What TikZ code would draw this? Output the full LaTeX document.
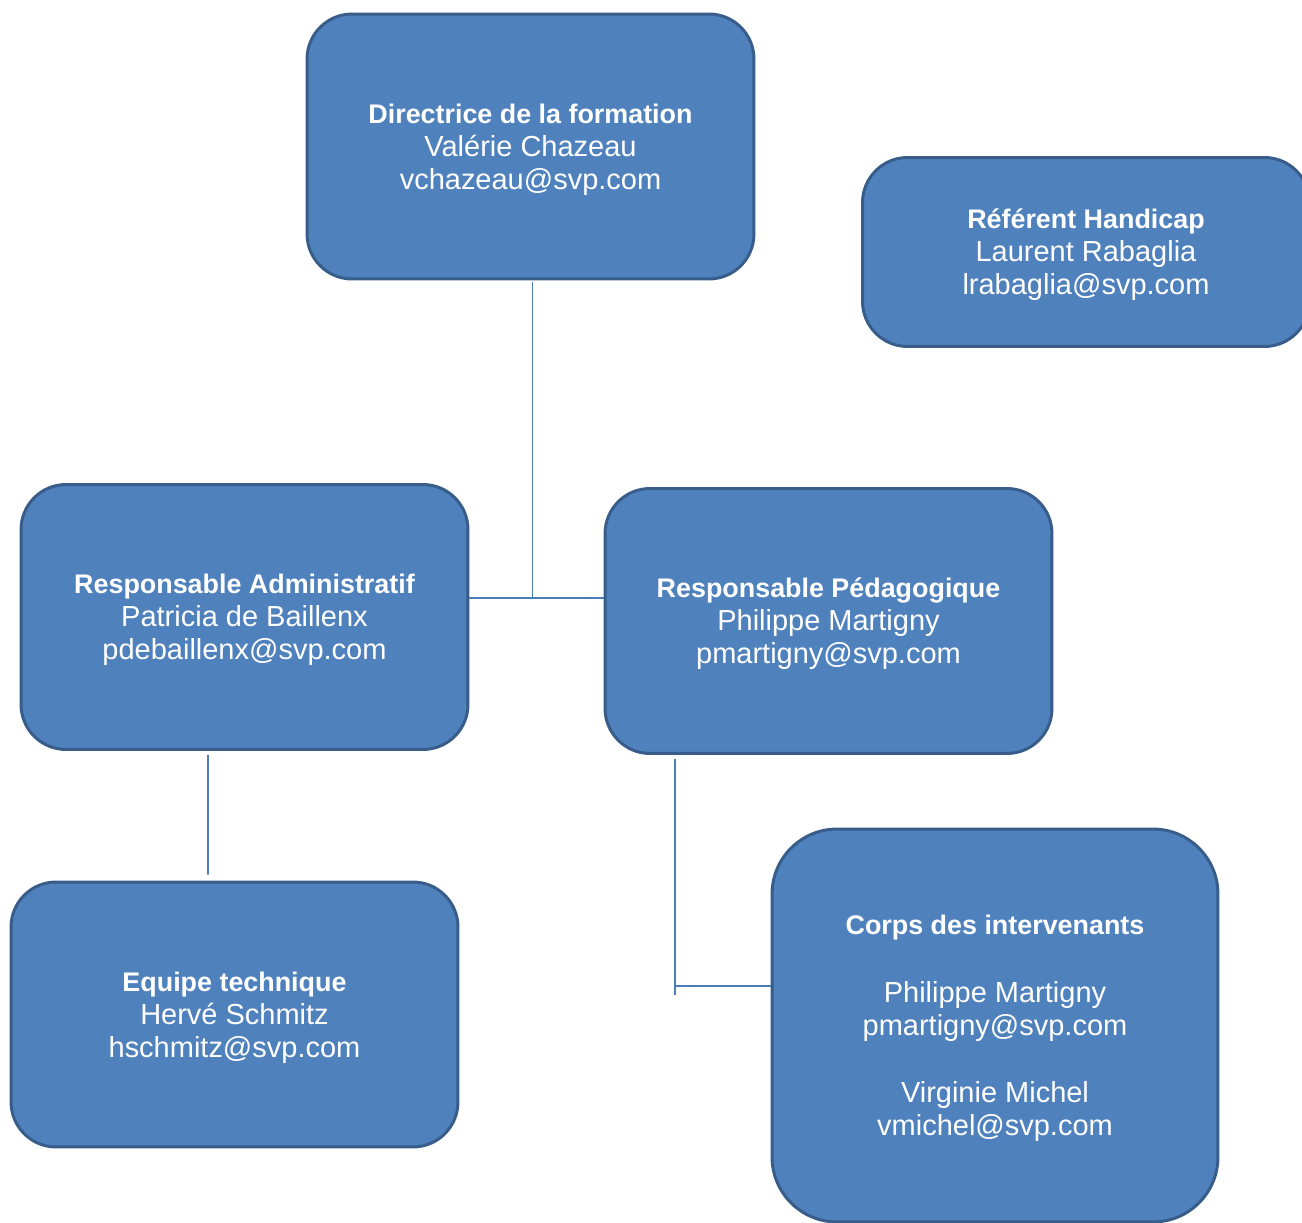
\documentclass[tikz,border=0pt]{standalone}
\usepackage{fontspec}
\setmainfont{Liberation Sans}
\usepackage{tikz}
\usetikzlibrary{positioning,calc}
\definecolor{boxfill}{RGB}{79,129,189}
\definecolor{boxline}{RGB}{56,93,138}
\definecolor{linkcol}{RGB}{74,126,187}
\tikzset{
  ubox/.style={draw=boxline, fill=boxfill, line width=1.7pt, rounded corners=0.9cm,
    text=white, align=center, font=\fontsize{16.5}{18.8}\selectfont, text depth=-0.6pt,
    minimum width=8.94cm, minimum height=5.3cm, inner sep=0pt},
  lnk/.style={linkcol, line width=0.9pt},
}
\newcommand{\hd}[1]{{\bfseries\fontsize{15.3}{18.8}\selectfont #1}}

\begin{document}
\begin{tikzpicture}[x=0.02cm, y=-0.02cm]
\useasboundingbox (0,0) rectangle (1302,1223);
% boxes
\node[ubox] (dir) at (530.5,146.5) {\hd{Directrice de la formation}\\Valérie Chazeau\\vchazeau@svp.com};
\node[ubox, minimum height=3.78cm] (ref) at (1086,252) {\hd{Référent Handicap}\\Laurent Rabaglia\\lrabaglia@svp.com};
\node[ubox] (adm) at (244.5,617) {\hd{Responsable Administratif}\\Patricia de Baillenx\\pdebaillenx@svp.com};
\node[ubox] (ped) at (828.5,621) {\hd{Responsable Pédagogique}\\Philippe Martigny\\pmartigny@svp.com};
\node[ubox] (eqp) at (234.5,1014.5) {\hd{Equipe technique}\\Hervé Schmitz\\hschmitz@svp.com};
\node[ubox, minimum width=8.92cm, minimum height=7.86cm, rounded corners=1.3cm] (crp) at (995,1025.5)
  {\hd{Corps des intervenants}\\[19.6pt]Philippe Martigny\\pmartigny@svp.com\\[19.6pt]Virginie Michel\\vmichel@svp.com};
% links
\coordinate (hub) at (532.5,598);
\coordinate (elbow) at (675,986);
\draw[lnk] ([yshift=-0.04cm]dir.south -| hub) -- (hub);
\draw[lnk] (adm.east |- hub) -- (ped.west |- hub);
\draw[lnk] ([xshift=-0.73cm,yshift=-0.08cm]adm.south) -- ([xshift=-0.53cm,yshift=0.12cm]eqp.north);
\draw[lnk] ([yshift=-0.08cm]ped.south -| elbow) -- ([yshift=-0.18cm]elbow);
\draw[lnk] (elbow) -- (crp.west |- elbow);
\end{tikzpicture}
\end{document}
